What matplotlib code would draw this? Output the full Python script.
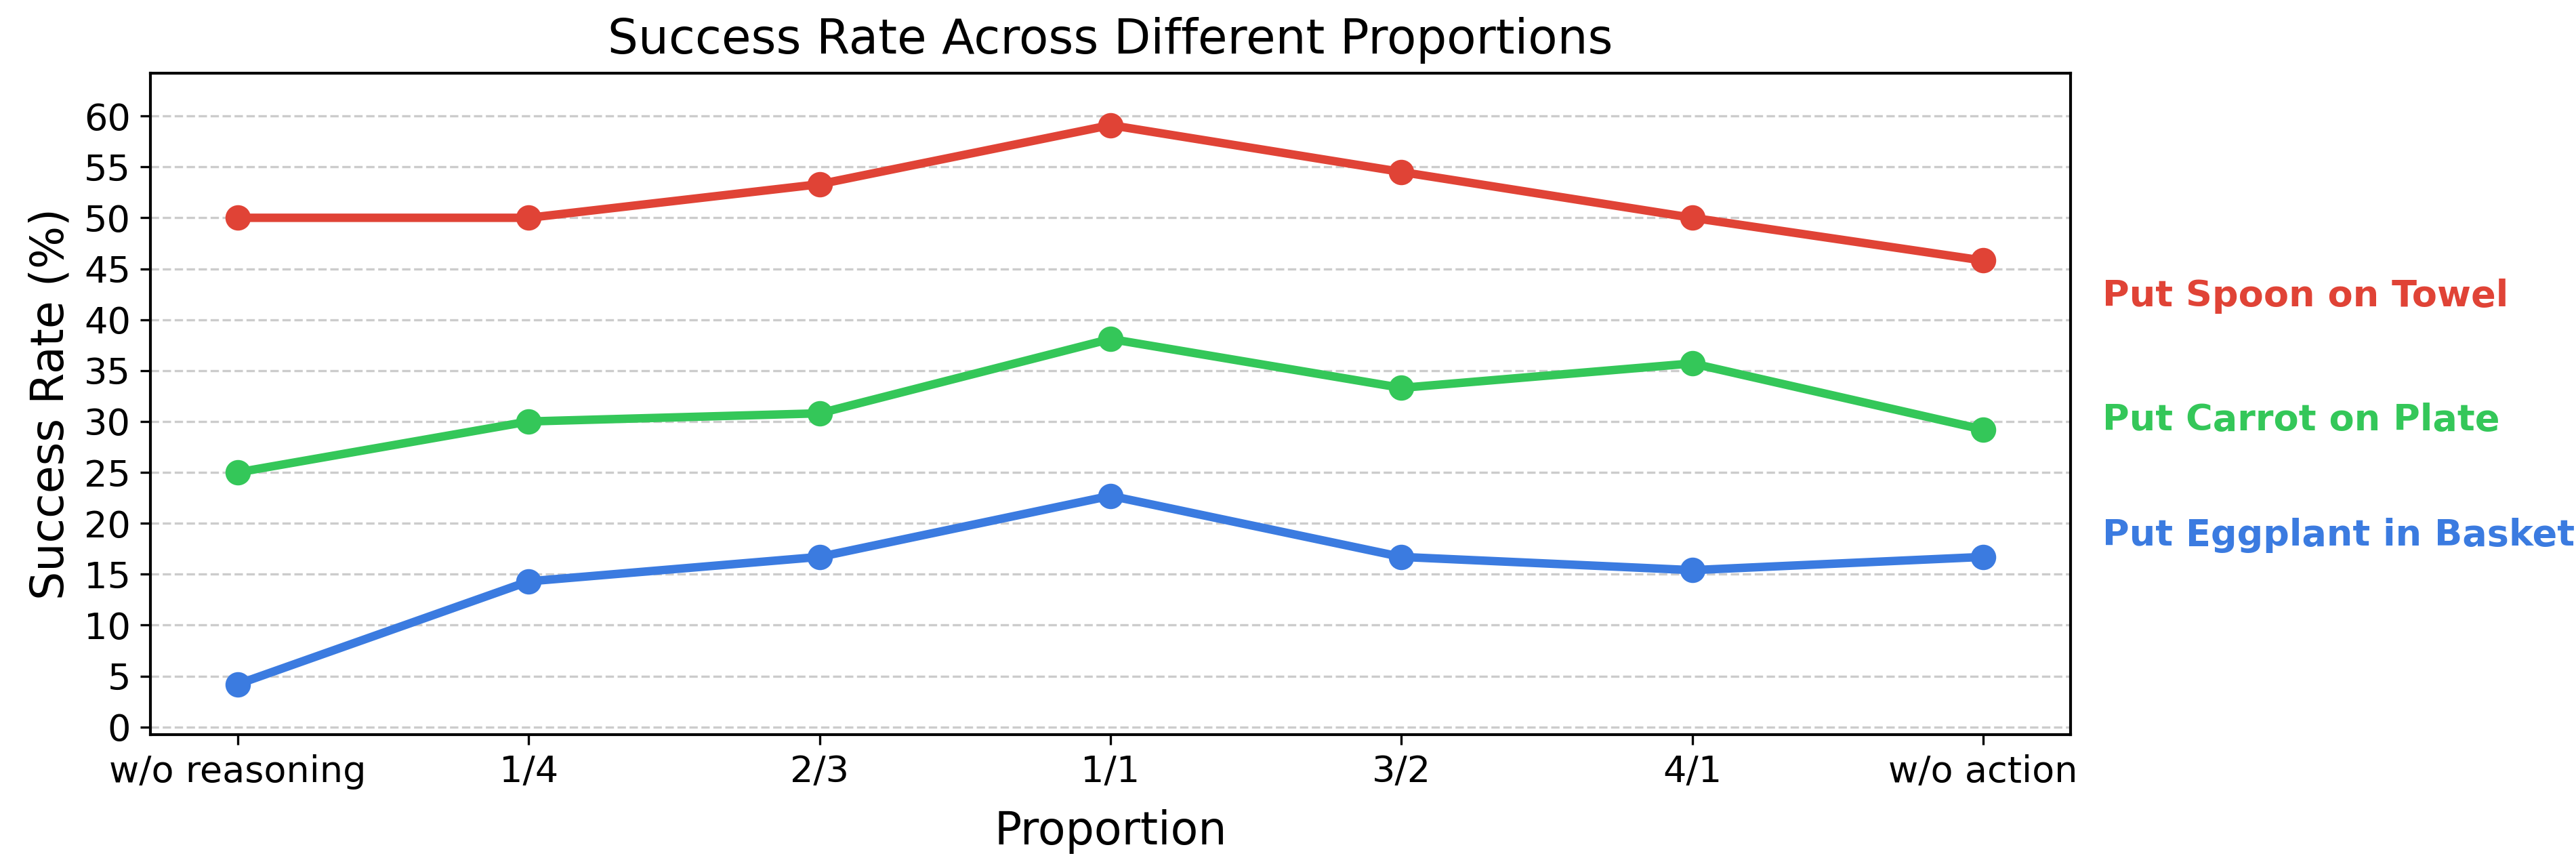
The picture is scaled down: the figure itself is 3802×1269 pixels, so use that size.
import matplotlib
matplotlib.use("Agg")
import matplotlib.pyplot as plt

categories = ["w/o reasoning", "1/4", "2/3", "1/1", "3/2", "4/1", "w/o action"]
spoon = [50.0, 50.0, 53.3, 59.1, 54.5, 50.0, 45.8]
carrot = [25.0, 30.0, 30.8, 38.1, 33.3, 35.7, 29.2]
eggplant = [4.2, 14.3, 16.7, 22.7, 16.7, 15.4, 16.7]
series_names = ["Put Spoon on Towel", "Put Carrot on Plate", "Put Eggplant in Basket"]
label_y = [42.3, 30.1, 18.8]
colors = ["#E04336", "#34C759", "#3B7BE0"]
yticks = list(range(0, 61, 5))

fig = plt.figure(figsize=(3802 / 300, 1269 / 300), dpi=300)
ax = fig.add_axes([0.0584, 0.1458, 0.8038 - 0.0584, 0.9149 - 0.1458])

x = list(range(len(categories)))
for vals, c in zip([spoon, carrot, eggplant], colors):
    ax.plot(x, vals, color=c, linewidth=3, marker="o", markersize=8, zorder=3)

for name, ly, c in zip(series_names, label_y, colors):
    ax.text(6.41, ly, name, color=c, fontsize=13, fontweight="bold",
            va="center", ha="left", clip_on=False)

ax.set_xticks(x)
ax.set_xticklabels(categories, fontsize=13)
ax.set_yticks(yticks)
ax.tick_params(axis="y", labelsize=13)
ax.set_xlim(-0.3, 6.3)
ax.set_ylim(-0.75, 64.2)
ax.grid(axis="y", linestyle="--", color="#cccccc", linewidth=0.8)
ax.set_axisbelow(True)
for s in ax.spines.values():
    s.set_linewidth(1.0)
ax.set_xlabel("Proportion", fontsize=16, labelpad=7)
ax.set_ylabel("Success Rate (%)", fontsize=16)
ax.set_title("Success Rate Across Different Proportions", fontsize=17, pad=7)

fig.savefig("out.png", dpi=300)
